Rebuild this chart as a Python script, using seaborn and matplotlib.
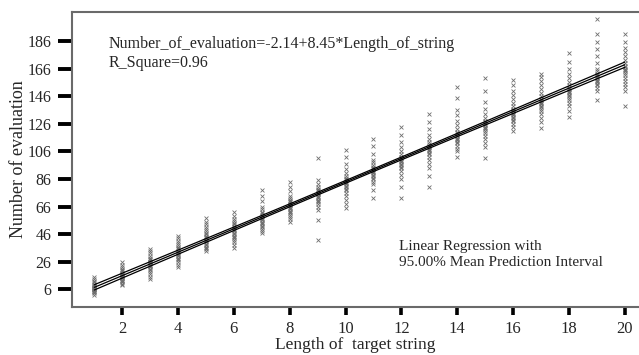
import numpy as np
import pandas as pd
import matplotlib
matplotlib.use("Agg")
import matplotlib.pyplot as plt
import seaborn as sns

lengths = list(range(1, 21))
evals_1 = [2, 3, 4, 4.5, 5, 5.5, 6, 6, 6.5, 7, 7, 7.5, 8, 8.5, 9, 10, 11, 12, 13.5, 15]
evals_2 = [9, 10, 11, 12, 12.5, 13, 14, 14.5, 15, 15.5, 16, 16.5, 17, 18, 19, 20, 21, 22.5, 24, 25.5]
evals_3 = [13.5, 15, 17, 18.5, 20, 21, 22, 23, 23.5, 24, 25, 25.5, 26, 27, 28, 29, 30.5, 32, 33.5, 35]
evals_4 = [22.5, 24, 25.5, 27, 28, 29, 30, 31, 31.5, 32, 33, 34, 35, 36, 37, 38, 39.5, 41, 43, 44.5]
evals_5 = [34, 35, 36, 37, 38, 39, 40, 41, 42, 43, 44, 45, 46, 47, 48, 49.5, 51, 53, 55, 57.5]
evals_6 = [36, 38, 40, 42, 43, 44, 45, 46, 47, 48, 49, 50, 51, 52, 53, 54, 55.5, 57, 59, 62]
evals_7 = [46.5, 48, 50, 51, 52, 53, 54, 55, 56, 57, 58, 59, 60, 61, 62, 64, 66, 70, 74, 78]
evals_8 = [55, 57, 58.5, 60, 61, 62, 63, 64, 65, 66, 67, 68, 69, 70, 71, 72.5, 74, 77, 80, 84]
evals_9 = [42, 56, 63.5, 66, 68, 69, 70, 71, 72, 73, 74, 75, 76, 77, 78, 79, 80, 82, 85, 101]
evals_10 = [65, 68, 71, 74, 76, 78, 79, 80, 81, 82, 83, 84, 85, 86, 87, 88, 90, 93, 97, 102, 107]
evals_11 = [72, 78, 82, 84, 86, 87, 88, 89, 90, 91, 92, 93, 94, 95, 96, 98, 100, 104, 110, 115]
evals_12 = [72, 80, 86, 89, 92, 94, 95, 96, 97, 98, 99, 100, 101, 102, 104, 106, 109, 113, 118, 124]
evals_13 = [80, 88, 94, 97, 100, 102, 104, 105, 106, 107, 108, 109, 110, 111, 113, 115, 118, 122, 127, 133]
evals_14 = [102, 106, 108, 110, 112, 113, 114, 115, 116, 117, 118, 119, 120, 122, 125, 128, 132, 136, 145, 153]
evals_15 = [101, 109, 112, 115, 117, 119, 121, 122, 123, 124, 125, 126, 127, 128, 130, 133, 137, 142, 150, 159]
evals_16 = [121, 124, 126, 128, 129, 130, 131, 132, 133, 134, 135, 136, 137, 139, 141, 144, 147, 150, 154, 158]
evals_17 = [123, 127, 130, 133, 135, 137, 138, 139, 140, 141, 142, 143, 144, 146, 148, 151, 154, 157, 160, 162]
evals_18 = [131, 135, 139, 141, 143, 145, 146, 147, 148, 149, 150, 151, 152, 154, 156, 159, 162, 166, 171, 177]
evals_19 = [143, 150, 152, 154, 155, 156, 157, 158, 159, 160, 161, 162, 164, 166, 170, 175, 180, 185, 191, 202]
evals_20 = [139, 150, 153, 155, 157, 159, 161, 163, 164, 165, 166, 167, 168, 170, 172, 175, 178, 181, 185, 191]
all_evals = [evals_1, evals_2, evals_3, evals_4, evals_5, evals_6, evals_7, evals_8, evals_9, evals_10,
             evals_11, evals_12, evals_13, evals_14, evals_15, evals_16, evals_17, evals_18, evals_19, evals_20]

y_ticks = [6, 26, 46, 66, 86, 106, 126, 146, 166, 186]
x_ticks = [2, 4, 6, 8, 10, 12, 14, 16, 18, 20]

equation_text = "Number_of_evaluation=-2.14+8.45*Length_of_string\nR_Square=0.96"
note_text = "Linear Regression with\n95.00% Mean Prediction Interval"

rows = [(L, v) for L, vals in zip(lengths, all_evals) for v in vals]
df = pd.DataFrame(rows, columns=["length", "evals"])

sns.set_style("white")
plt.rcParams["font.family"] = ["Liberation Serif", "DejaVu Serif"]

fig = plt.figure(figsize=(6.39, 3.55), dpi=100)
ax = fig.add_axes([0.1127, 0.1352, 0.885, 0.831])

sns.scatterplot(data=df, x="length", y="evals", ax=ax, marker="x", s=8,
                color="#6e6e6e", linewidth=0.6, legend=False, zorder=2)

# fit and 95% mean prediction interval
x = df["length"].to_numpy(float)
y = df["evals"].to_numpy(float)
n = len(x)
b1, b0 = np.polyfit(x, y, 1)
resid = y - (b0 + b1 * x)
s = np.sqrt(np.sum(resid ** 2) / (n - 2))
xm = x.mean()
sxx = np.sum((x - xm) ** 2)
xs = np.linspace(1, 20, 100)
yhat = b0 + b1 * xs
se = s * np.sqrt(1.0 / n + (xs - xm) ** 2 / sxx)
t = 1.966
sns.lineplot(x=xs, y=yhat, ax=ax, color="black", linewidth=0.9, zorder=3)
sns.lineplot(x=xs, y=yhat + t * se, ax=ax, color="black", linewidth=0.9, zorder=3)
sns.lineplot(x=xs, y=yhat - t * se, ax=ax, color="black", linewidth=0.9, zorder=3)

ax.set_xlim(0.2, 20.46)
ax.set_ylim(-6.8, 207)
ax.set_xticks(x_ticks)
ax.set_yticks(y_ticks)
ax.tick_params(axis="y", direction="out", length=10, width=2.8, color="black", pad=5, labelsize=11.5)
ax.tick_params(axis="x", direction="out", length=6, width=2.6, color="black", pad=4, labelsize=12)
ax.tick_params(left=True, bottom=True)
for side in ["top", "left", "bottom"]:
    ax.spines[side].set_color("#6a6a6a")
    ax.spines[side].set_linewidth(1.5)
ax.spines["right"].set_visible(False)

ax.set_xlabel("Length of  target string", fontsize=12.5, labelpad=0)
ax.set_ylabel("Number of evaluation", fontsize=13, labelpad=0)

ax.text(0.065, 0.919, equation_text, transform=ax.transAxes, fontsize=11.5,
        va="top", ha="left", linespacing=1.25)
ax.text(0.578, 0.227, note_text, transform=ax.transAxes, fontsize=11,
        va="top", ha="left", linespacing=1.25)

fig.savefig("out.png", dpi=100)
